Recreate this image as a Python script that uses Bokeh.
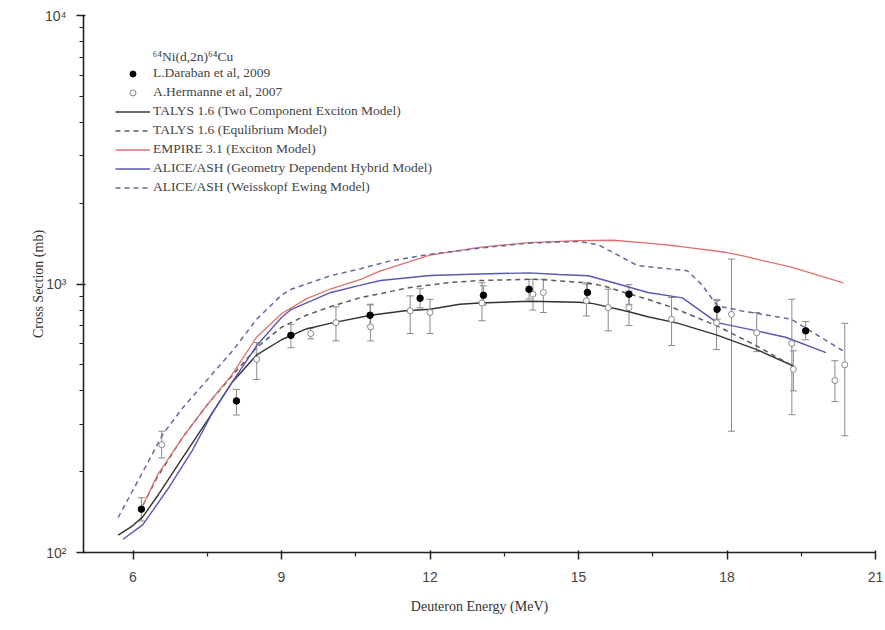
from bokeh.plotting import figure
from bokeh.models import (Range1d, FixedTicker, Legend, LegendItem, Label,
                          ColumnDataSource, Whisker, TeeHead)
from bokeh.embed import file_html
from bokeh.resources import INLINE

# ---- data ----
dar_E = [6.17, 8.09, 9.19, 10.79, 11.8, 13.08, 14.0, 15.18, 16.02, 17.8, 19.59]
dar = [145, 367, 644, 765, 885, 908, 956, 930, 916, 805, 669]
dar_lo = [131, 325, 579, 700, 815, 835, 880, 855, 840, 740, 620]
dar_hi = [160, 405, 708, 835, 960, 985, 1040, 1010, 995, 875, 725]

herm_E = [6.58, 8.5, 9.59, 10.1, 10.8, 11.6, 12.0, 13.05, 14.08, 14.29, 15.16,
          15.6, 16.02, 16.88, 17.79, 18.09, 18.6, 19.31, 19.34, 20.18, 20.38]
herm = [252, 524, 654, 718, 692, 795, 783, 850, 916, 930, 866,
        817, 817, 739, 718, 771, 659, 600, 481, 437, 500]
herm_lo = [225, 441, 625, 614, 614, 654, 654, 730, 800, 783, 760,
           669, 700, 590, 570, 283, 560, 326, 400, 365, 272]
herm_hi = [283, 605, 685, 822, 841, 903, 877, 1010, 1040, 1042, 1000,
           956, 940, 891, 867, 1238, 783, 877, 564, 518, 714]

talys_tce_E = [5.7, 6.0, 6.2, 6.5, 7.0, 7.5, 8.0, 8.5, 9.0, 9.5, 10.0, 10.8, 11.5,
               12.0, 12.6, 13.0, 14.0, 15.0, 15.3, 16.0, 16.4, 17.0, 17.8, 18.6, 19.34]
talys_tce = [116, 126, 136, 163, 225, 310, 430, 545, 620, 680, 715, 765, 795,
             805, 841, 850, 862, 855, 845, 790, 755, 715, 645, 570, 495]

talys_eq_E = [6.2, 6.5, 7.0, 7.5, 8.0, 8.5, 9.0, 9.5, 10.0, 10.6, 11.6, 12.4, 13.0,
              14.1, 15.1, 15.5, 16.0, 16.4, 16.9, 17.8, 18.6, 19.2, 19.34]
talys_eq = [150, 192, 268, 355, 455, 580, 690, 765, 825, 890, 970, 1013, 1030,
            1042, 1013, 985, 920, 877, 817, 698, 588, 510, 495]

empire_E = [6.2, 6.5, 7.0, 7.5, 8.0, 8.5, 9.0, 9.5, 10.0, 10.6, 11.0, 12.0, 13.0,
            14.0, 15.0, 15.7, 16.4, 17.0, 18.0, 18.3, 19.3, 20.35]
empire = [150, 195, 268, 355, 460, 635, 775, 880, 960, 1040, 1120, 1280, 1370,
          1425, 1450, 1455, 1420, 1385, 1310, 1275, 1155, 1010]

alice_gdh_E = [5.8, 6.2, 6.7, 7.2, 7.6, 8.0, 8.5, 9.0, 9.2, 10.0, 10.6, 11.0, 12.0,
               13.0, 14.0, 14.6, 15.2, 15.8, 16.4, 17.1, 17.8, 18.6, 19.2, 20.0]
alice_gdh = [112, 127, 172, 240, 330, 430, 590, 750, 805, 930, 990, 1030, 1075,
             1090, 1100, 1085, 1073, 1000, 930, 888, 718, 669, 632, 555]

alice_we_E = [5.7, 6.2, 6.6, 7.0, 7.5, 8.0, 8.5, 9.0, 9.2, 10.0, 10.6, 11.2, 12.0,
              13.0, 14.0, 15.0, 15.4, 15.8, 16.2, 17.2, 17.5, 17.8, 18.3, 19.3, 20.35]
alice_we = [135, 200, 275, 345, 440, 560, 740, 910, 956, 1075, 1140, 1220, 1290,
            1360, 1420, 1440, 1400, 1280, 1170, 1120, 990, 830, 794, 739, 563]

x_ticks = [6, 9, 12, 15, 18, 21]
x_minor = [7.5, 10.5, 13.5, 16.5, 19.5]
y_ticks = [100, 1000, 10000]
y_labels = {100: "10²", 1000: "10³", 10000: "10⁴"}
y_minor = [m * d for d in (100, 1000) for m in range(2, 10)]

# ---- figure ----
p = figure(width=885, height=630, output_backend="svg", toolbar_location=None,
           y_axis_type="log", x_range=Range1d(5, 21), y_range=Range1d(100, 10000),
           min_border_left=83, min_border_right=10, min_border_top=15,
           min_border_bottom=78)
p.outline_line_color = None
p.xgrid.visible = False
p.ygrid.visible = False
p.background_fill_color = "white"
p.border_fill_color = "white"

for ax in (p.xaxis[0], p.yaxis[0]):
    ax.axis_line_width = 1.6
    ax.axis_line_color = "#222222"
    ax.major_tick_line_color = "#222222"
    ax.minor_tick_line_color = "#222222"
    ax.major_tick_line_width = 1.5
    ax.minor_tick_line_width = 1.2
    ax.major_tick_out = 7
    ax.major_tick_in = 2
    ax.minor_tick_out = 4
    ax.minor_tick_in = 0
    ax.major_label_text_font = "Liberation Sans"
    ax.major_label_text_font_size = "14px"
    ax.major_label_text_color = "#444444"
    ax.axis_label_text_font = "Liberation Serif"
    ax.axis_label_text_font_size = "14px"
    ax.axis_label_text_font_style = "normal"
    ax.axis_label_text_color = "#333333"

p.xaxis.ticker = FixedTicker(ticks=x_ticks, minor_ticks=x_minor)
p.yaxis.ticker = FixedTicker(ticks=y_ticks, minor_ticks=y_minor)
p.yaxis.major_label_overrides = y_labels
p.xaxis.axis_label = "Deuteron Energy (MeV)"
p.yaxis.axis_label = "Cross Section (mb)"
p.xaxis.axis_label_standoff = 14
p.yaxis.axis_label_standoff = -4
p.xaxis.major_label_standoff = 12
p.yaxis.major_label_standoff = 10

# ---- theory curves ----
r_tce = p.line(talys_tce_E, talys_tce, line_color="#333333", line_width=1.4)
r_eq = p.line(talys_eq_E, talys_eq, line_color="#5a5a66", line_width=1.5, line_dash="5 4")
r_emp = p.line(empire_E, empire, line_color="#e07070", line_width=1.3)
r_gdh = p.line(alice_gdh_E, alice_gdh, line_color="#5858b0", line_width=1.4)
r_we = p.line(alice_we_E, alice_we, line_color="#6868a0", line_width=1.5, line_dash="5 4")

# ---- error bars ----
src_h = ColumnDataSource(dict(x=herm_E, y=herm, lo=herm_lo, hi=herm_hi))
src_d = ColumnDataSource(dict(x=dar_E, y=dar, lo=dar_lo, hi=dar_hi))
for src in (src_h, src_d):
    w = Whisker(source=src, base="x", lower="lo", upper="hi",
                line_color="#8a8a8a", line_width=1,
                lower_head=TeeHead(size=7, line_color="#8a8a8a", line_width=1),
                upper_head=TeeHead(size=7, line_color="#8a8a8a", line_width=1))
    p.add_layout(w)

r_h = p.scatter("x", "y", source=src_h, marker="circle", size=6,
                fill_color="white", line_color="#888888", line_width=1)
r_d = p.scatter("x", "y", source=src_d, marker="circle", size=6.5,
                fill_color="black", line_color="black")

# ---- legend ----
items = [
    LegendItem(label="L.Daraban et al, 2009", renderers=[r_d]),
    LegendItem(label="A.Hermanne et al, 2007", renderers=[r_h]),
    LegendItem(label="TALYS 1.6 (Two Component Exciton Model)", renderers=[r_tce]),
    LegendItem(label="TALYS 1.6 (Equlibrium Model)", renderers=[r_eq]),
    LegendItem(label="EMPIRE 3.1 (Exciton Model)", renderers=[r_emp]),
    LegendItem(label="ALICE/ASH (Geometry Dependent Hybrid Model)", renderers=[r_gdh]),
    LegendItem(label="ALICE/ASH (Weisskopf Ewing Model)", renderers=[r_we]),
]
leg = Legend(items=items, location=(32, 357), padding=0, margin=0,
             border_line_color=None, background_fill_alpha=0,
             glyph_width=35, glyph_height=15, label_height=15, spacing=3,
             label_standoff=3, label_text_font="Liberation Serif",
             label_text_font_size="13.5px", label_text_color="#444444")
p.add_layout(leg, "center")

# title of the legend block (screen units are measured from the frame's lower-left corner)
title = Label(x=69, y=496, x_units="screen", y_units="screen",
              text="⁶⁴Ni(d,2n)⁶⁴Cu", text_font="Liberation Serif",
              text_font_size="13.5px", text_color="#444444",
              text_baseline="middle", text_align="left")
p.add_layout(title)

open("out.html", "w").write(file_html(p, INLINE))
